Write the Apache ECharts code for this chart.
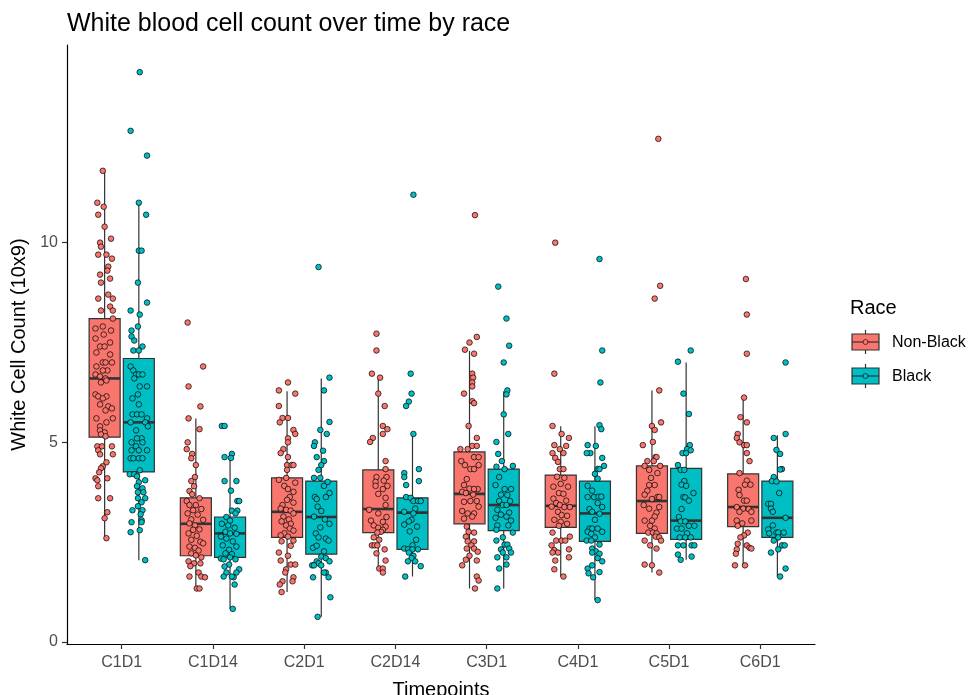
<!DOCTYPE html>
<html><head><meta charset="utf-8">
<script src="https://cdn.jsdelivr.net/npm/echarts@6/dist/echarts.min.js"></script>
<style>html,body{margin:0;padding:0;background:#fff}#c{width:971px;height:695px}</style>
</head><body><div id="c"></div>
<script>
// ---------------- data ----------------
const timepoints = ['C1D1','C1D14','C2D1','C2D14','C3D1','C4D1','C5D1','C6D1'];
const groups = ['Non-Black','Black'];
const colors = ['#F8766D','#00BFC4'];
const yTicks = [0,5,10];
// box stats per timepoint: [lower whisker, Q1, median, Q3, upper whisker]
const boxNonBlack = [
  [2.6,5.13,6.6,8.1,11.8],[1.32,2.16,2.96,3.61,5.6],[1.25,2.62,3.26,4.11,6.28],[1.82,2.74,3.33,4.31,6.6],
  [1.34,2.96,3.71,4.76,7.29],[1.64,2.87,3.41,4.18,5.4],[1.74,2.72,3.53,4.41,6.3],[1.92,2.89,3.38,4.21,6.12]
];
const boxBlack = [
  [2.05,4.26,5.5,7.1,11.0],[0.83,2.12,2.72,3.13,4.71],[0.63,2.2,3.13,4.03,6.6],[1.64,2.32,3.24,3.61,5.21],
  [1.34,2.79,3.43,4.33,6.28],[1.05,2.52,3.22,4.03,5.4],[2.06,2.57,3.04,4.35,7.0],[1.64,2.62,3.11,4.03,5.18]
];
// observations per timepoint: [value, jitter in hundredths of a category]
const ptsNonBlack = [
 [[11.8,-2],[11.0,-8],[10.9,-1],[10.7,-7],[10.4,0],[10.1,7],[10.0,-5],[9.9,-4],[9.7,-7],[9.7,2],[9.6,8],[9.4,4],[9.2,-5],[9.3,3],[9.1,6],[9.0,-4],[8.6,-7],[8.7,4],[8.6,9],[8.4,6],[8.3,9],[8.3,-4],[8.1,9],[7.9,-2],[7.85,-10],[7.8,7],[7.7,-1],[7.6,-10],[7.5,6],[7.4,-5],[7.4,0],[7.25,-9],[7.2,6],[7.0,-2],[7.0,1],[7.0,8],[6.9,-9],[6.8,3],[6.8,-2],[6.7,-10],[6.65,-5],[6.6,1],[6.5,-4],[6.55,2],[6.2,-10],[6.15,-7],[6.15,2],[6.1,-2],[5.95,-5],[5.9,4],[5.8,1],[5.85,8],[5.6,-9],[5.6,9],[5.5,2],[5.4,-5],[5.3,-5],[5.25,0],[5.2,-4],[5.15,1],[4.9,-8],[4.9,-3],[4.9,8],[4.8,-7],[4.7,-5],[4.7,9],[4.5,2],[4.4,-2],[4.35,-4],[4.25,-6],[4.1,-10],[4.1,3],[4.05,-8],[3.9,-7],[3.6,-7],[3.6,6],[3.25,3],[3.1,0],[2.6,2]],
 [[8.0,-9],[6.9,8],[6.4,-8],[5.9,5],[5.6,-8],[5.33,4],[5.0,-9],[4.83,-10],[4.71,-4],[4.6,-5],[4.43,0],[4.13,-1],[4.03,-5],[3.9,-2],[3.78,-7],[3.7,-4],[3.6,4],[3.53,-10],[3.43,-7],[3.43,0],[3.33,6],[3.3,-3],[3.22,-9],[3.19,2],[3.07,-5],[3.06,8],[2.97,-7],[2.92,-1],[2.81,-3],[2.82,4],[2.72,-8],[2.66,1],[2.56,-5],[2.51,5],[2.47,8],[2.39,-7],[2.36,-1],[2.29,3],[2.22,-5],[2.17,0],[2.12,6],[2.02,-8],[1.97,-2],[1.9,-6],[1.97,5],[1.74,3],[1.64,-7],[1.64,6],[1.62,10],[1.34,1],[1.34,4]],
 [[6.5,1],[6.3,-9],[6.22,9],[5.91,-9],[5.61,-5],[5.61,1],[5.5,-8],[5.31,7],[5.21,9],[5.1,1],[5.0,1],[4.83,-4],[4.73,-7],[4.63,1],[4.43,0],[4.43,5],[4.43,7],[4.31,0],[4.11,-1],[4.06,-9],[3.99,9],[3.91,-3],[3.83,1],[3.76,7],[3.63,3],[3.56,0],[3.49,7],[3.43,-5],[3.34,-7],[3.31,-1],[3.29,4],[3.22,7],[3.14,-4],[3.07,2],[3.02,-6],[2.96,4],[2.92,-1],[2.84,3],[2.79,7],[2.72,-3],[2.67,-7],[2.64,1],[2.54,7],[2.52,-6],[2.41,4],[2.24,-9],[2.16,1],[2.04,-7],[1.94,4],[1.94,9],[1.82,-1],[1.74,-2],[1.62,7],[1.52,6],[1.52,-5],[1.44,-8],[1.25,-6]],
 [[7.72,-2],[7.3,-2],[6.72,-7],[6.62,2],[6.22,0],[5.91,7],[5.41,5],[5.33,10],[5.21,5],[5.11,-6],[5.01,-9],[4.53,8],[4.33,8],[4.13,-2],[4.13,9],[4.01,-3],[4.04,6],[3.91,-3],[3.91,10],[3.83,5],[3.71,0],[3.61,8],[3.43,8],[3.31,-10],[3.22,0],[3.13,9],[3.04,-8],[3.01,5],[2.92,-5],[2.89,8],[2.86,0],[2.81,5],[2.76,3],[2.74,-1],[2.62,-5],[2.56,1],[2.42,-7],[2.42,-4],[2.42,-1],[2.32,7],[2.22,-2],[2.04,8],[1.84,1],[1.84,5],[1.74,5]],
 [[10.69,6],[7.64,8],[7.5,0],[7.32,-5],[7.22,5],[6.72,3],[6.62,4],[6.5,3],[6.4,3],[6.22,-6],[6.03,3],[5.98,5],[5.41,-1],[5.11,8],[4.91,3],[4.91,8],[4.83,-10],[4.83,-2],[4.53,-9],[4.63,5],[4.63,10],[4.43,-5],[4.33,1],[4.43,10],[4.33,5],[4.08,-3],[3.93,-6],[3.84,0],[3.83,9],[3.83,5],[3.76,-8],[3.73,-4],[3.69,4],[3.51,-6],[3.53,1],[3.53,8],[3.39,10],[3.28,-8],[3.22,-2],[3.22,5],[3.14,3],[3.09,-6],[2.89,-3],[2.76,-1],[2.64,-4],[2.74,5],[2.52,-2],[2.52,5],[2.42,2],[2.34,-3],[2.34,5],[2.26,9],[2.16,0],[2.06,-4],[2.04,8],[1.92,-8],[1.64,8],[1.54,10],[1.34,6]],
 [[10.0,-6],[6.72,-7],[5.41,-9],[5.21,1],[5.11,9],[4.93,-7],[4.83,-1],[4.91,6],[4.73,-9],[4.73,3],[4.61,-6],[4.51,-3],[4.33,-1],[4.33,3],[4.14,-4],[4.11,4],[3.96,0],[3.89,-8],[3.89,8],[3.73,-2],[3.71,3],[3.59,-8],[3.54,6],[3.48,-5],[3.43,-1],[3.38,4],[3.38,10],[3.39,-10],[3.26,-3],[3.18,1],[3.16,7],[3.06,-7],[3.01,0],[2.96,7],[2.91,-2],[2.74,-9],[2.64,10],[2.54,-5],[2.54,1],[2.54,5],[2.42,-10],[2.3,-7],[2.24,-3],[2.32,9],[2.24,-9],[2.12,9],[2.04,-6],[1.82,-7],[1.64,3]],
 [[12.6,7],[8.92,9],[8.6,3],[6.3,8],[5.5,10],[5.41,0],[5.31,3],[5.01,1],[4.93,-10],[4.63,4],[4.63,5],[4.53,-5],[4.53,2],[4.41,-8],[4.41,9],[4.31,-3],[4.23,6],[4.11,-1],[3.93,-3],[3.93,3],[3.79,-5],[3.69,-8],[3.63,6],[3.63,8],[3.58,0],[3.43,-9],[3.38,8],[3.34,-3],[3.24,5],[3.14,3],[3.04,-8],[3.04,0],[2.91,-2],[2.84,3],[2.74,-4],[2.74,1],[2.72,5],[2.64,4],[2.62,8],[2.54,-8],[2.54,10],[2.42,-2],[2.34,5],[1.94,-8],[1.92,0],[1.74,8]],
 [[9.09,3],[8.2,4],[7.22,4],[6.12,1],[5.63,-3],[5.5,4],[5.21,-6],[5.11,-7],[5.0,-4],[4.93,1],[4.93,4],[4.73,4],[4.53,7],[4.23,-4],[4.04,4],[3.94,8],[3.94,2],[3.81,-5],[3.68,-4],[3.54,1],[3.54,4],[3.38,-7],[3.34,0],[3.33,6],[3.26,9],[3.26,-4],[3.04,-7],[3.04,9],[2.97,-1],[2.91,-6],[2.74,5],[2.67,1],[2.62,-3],[2.46,-6],[2.42,4],[2.36,7],[2.32,-7],[2.34,9],[2.21,-8],[1.92,-9],[1.92,2]]
];
const ptsBlack = [
 [[14.27,1],[12.8,-9],[12.18,9],[11.0,0],[10.7,8],[9.8,0],[9.8,3],[9.0,-1],[8.5,9],[8.3,-9],[8.2,1],[7.9,-1],[7.8,-8],[7.65,-8],[7.55,-5],[7.4,4],[7.3,-6],[7.3,0],[6.9,-9],[6.8,-6],[6.7,-3],[6.7,0],[6.6,-5],[6.7,4],[6.4,1],[6.4,9],[6.2,-1],[6.1,-7],[5.95,0],[5.7,-7],[5.7,-2],[5.7,3],[5.6,9],[5.5,7],[5.4,10],[5.5,-9],[5.3,-3],[5.1,3],[5.1,-2],[5.0,4],[5.0,-8],[4.9,-3],[4.8,-8],[4.8,0],[4.8,9],[4.6,-9],[4.6,-6],[4.6,0],[4.6,4],[4.3,1],[4.2,-10],[4.2,-5],[4.15,-2],[4.0,0],[4.05,7],[3.9,-2],[3.85,4],[3.75,-1],[3.75,5],[3.6,-1],[3.6,7],[3.5,3],[3.4,-1],[3.3,-7],[3.3,4],[3.2,2],[3.05,3],[3.0,-8],[3.0,3],[2.8,1],[2.75,-9],[2.05,7]],
 [[5.41,-9],[5.41,-6],[4.63,-6],[4.71,2],[4.61,1],[4.03,-6],[4.03,7],[3.79,1],[3.53,8],[3.53,10],[3.29,2],[3.29,8],[3.22,6],[3.13,-4],[3.04,0],[2.96,-9],[2.92,-2],[2.86,5],[2.76,-5],[2.72,0],[2.71,7],[2.64,-10],[2.59,-4],[2.52,3],[2.42,-8],[2.39,7],[2.31,-1],[2.22,-5],[2.2,2],[2.09,-10],[2.07,-7],[2.12,0],[2.07,6],[1.94,-1],[1.89,-6],[1.82,10],[1.74,-4],[1.74,7],[1.62,4],[1.64,2],[1.64,-7],[1.44,5],[0.83,3]],
 [[9.39,-3],[6.62,9],[6.3,3],[5.51,9],[5.31,-1],[5.21,6],[5.0,-7],[4.91,-8],[4.79,2],[4.63,-5],[4.53,3],[4.43,0],[4.31,-3],[4.11,-8],[4.11,-1],[4.01,7],[3.91,3],[3.73,9],[3.63,-7],[3.58,-5],[3.63,5],[3.39,-4],[3.28,0],[3.14,-8],[3.07,4],[2.96,9],[2.87,-1],[2.72,-6],[2.62,-3],[2.59,5],[2.54,8],[2.36,-9],[2.41,-5],[2.27,3],[2.14,0],[2.1,5],[2.02,9],[2.02,-5],[1.97,-3],[1.92,-10],[1.92,-8],[1.92,0],[1.74,5],[1.74,3],[1.62,-9],[1.62,8],[1.12,10],[0.63,-4]],
 [[11.2,1],[6.72,-2],[6.22,-1],[6.02,-4],[5.91,-7],[5.21,1],[4.33,7],[4.23,-9],[4.13,-9],[4.03,7],[3.93,-7],[3.63,-7],[3.61,-2],[3.53,1],[3.53,6],[3.53,9],[3.34,3],[3.26,-9],[3.22,1],[3.06,-1],[3.02,-4],[2.94,-9],[2.89,5],[2.77,-3],[2.56,4],[2.42,0],[2.34,-9],[2.32,-5],[2.32,0],[2.32,6],[2.24,-4],[2.16,1],[2.1,-1],[2.02,3],[2.02,-5],[1.9,9],[1.64,-8]],
 [[8.9,-6],[8.1,3],[7.42,6],[7.0,0],[6.3,4],[6.2,3],[5.7,0],[5.21,5],[5.01,-8],[4.71,-6],[4.53,-2],[4.39,-8],[4.33,1],[4.41,10],[4.13,-5],[3.93,-9],[3.83,1],[3.83,8],[3.69,-3],[3.68,4],[3.53,-5],[3.53,7],[3.43,-1],[3.43,3],[3.31,-7],[3.24,6],[3.19,-3],[3.14,3],[3.11,-9],[3.04,8],[2.92,-7],[2.92,5],[2.81,-8],[2.74,10],[2.62,-1],[2.54,-8],[2.44,1],[2.44,4],[2.32,-3],[2.34,6],[2.24,-1],[2.24,8],[2.12,-7],[2.12,3],[1.94,3],[1.84,-5],[1.34,-7]],
 [[9.59,5],[7.3,8],[6.5,6],[5.43,5],[5.33,7],[4.93,-8],[4.91,1],[4.73,-5],[4.73,-9],[4.61,8],[4.41,10],[4.33,3],[4.33,5],[4.21,0],[4.09,3],[3.91,-8],[3.79,-3],[3.63,-8],[3.63,-1],[3.64,4],[3.64,7],[3.48,3],[3.33,-6],[3.38,8],[3.26,-3],[3.21,5],[3.06,0],[2.84,-6],[2.84,-3],[2.84,3],[2.76,-8],[2.71,-4],[2.76,8],[2.62,0],[2.54,-9],[2.54,-4],[2.44,5],[2.34,-3],[2.27,1],[2.21,5],[2.24,-3],[2.1,3],[2.02,8],[1.92,-3],[1.84,-8],[1.75,5],[1.72,-7],[1.62,-2],[1.05,3]],
 [[7.3,5],[7.02,-9],[6.22,-3],[5.71,3],[4.93,4],[4.83,1],[4.73,-4],[4.8,5],[4.73,0],[4.43,-9],[4.31,-6],[4.31,-2],[4.03,-2],[3.94,-5],[3.91,0],[3.73,8],[3.63,-3],[3.62,-1],[3.54,3],[3.33,-5],[3.13,-8],[3.02,-6],[3.02,-1],[2.91,3],[2.91,9],[2.84,-10],[2.84,-5],[2.72,1],[2.62,-7],[2.62,-1],[2.62,5],[2.42,-9],[2.42,-3],[2.42,6],[2.42,9],[2.19,-9],[2.14,6],[2.06,-6]],
 [[7.0,9],[5.11,-4],[5.21,9],[4.81,-1],[4.71,3],[4.33,5],[4.32,3],[4.13,-4],[4.03,-6],[4.02,-1],[3.73,2],[3.46,-10],[3.46,-7],[3.34,-7],[3.26,-5],[3.11,9],[2.82,-10],[2.92,-5],[2.72,-9],[2.74,-1],[2.74,1],[2.74,7],[2.62,1],[2.54,-4],[2.42,5],[2.42,8],[2.32,1],[2.24,-7],[1.84,9],[1.64,3]]
];

// ---------------- chart ----------------
const FONT = "'Liberation Sans', Arial, sans-serif";
const DODGE = 0.1875, BOXW = 0.34;
const boxSets = [boxNonBlack, boxBlack];
const ptSets = [ptsNonBlack, ptsBlack];

const boxData = [];
boxSets.forEach((arr, g) => arr.forEach((s, i) => boxData.push([i + 1 + (g ? DODGE : -DODGE), s[0], s[1], s[2], s[3], s[4], g])));

function renderBox(params, api) {
  const x = api.value(0), g = api.value(6);
  const w = api.size([BOXW, 0])[0];
  const lo = api.coord([x, api.value(1)]), q1 = api.coord([x, api.value(2)]),
        md = api.coord([x, api.value(3)]), q3 = api.coord([x, api.value(4)]),
        hi = api.coord([x, api.value(5)]);
  const cx = md[0];
  const ls = { stroke: '#333333', lineWidth: 1.2 };
  return { type: 'group', children: [
    { type: 'line', shape: { x1: cx, y1: lo[1], x2: cx, y2: q1[1] }, style: ls },
    { type: 'line', shape: { x1: cx, y1: q3[1], x2: cx, y2: hi[1] }, style: ls },
    { type: 'rect', shape: { x: cx - w / 2, y: q3[1], width: w, height: q1[1] - q3[1] },
      style: { fill: colors[g], stroke: '#333333', lineWidth: 1.2 } },
    { type: 'line', shape: { x1: cx - w / 2, y1: md[1], x2: cx + w / 2, y2: md[1] },
      style: { stroke: '#333333', lineWidth: 2.6 } }
  ]};
}

const scatterSeries = ptSets.map((sets, g) => ({
  type: 'scatter', name: groups[g], z: 3, silent: true,
  symbol: 'circle', symbolSize: 5.6,
  itemStyle: { color: colors[g], borderColor: '#000', borderWidth: 0.7, opacity: 1 },
  data: sets.flatMap((list, i) => list.map(([v, j]) => [i + 1 + (g ? DODGE : -DODGE) + j / 100, v]))
}));

// legend (drawn as graphic)
function legendKey(y, g) {
  const x0 = 852, w = 27, h = 16;
  return [
    { type: 'line', shape: { x1: x0 + w / 2, y1: y - 12, x2: x0 + w / 2, y2: y + 12 }, style: { stroke: '#333', lineWidth: 1.2 } },
    { type: 'rect', shape: { x: x0, y: y - h / 2, width: w, height: h }, style: { fill: colors[g], stroke: '#333', lineWidth: 1.2 } },
    { type: 'line', shape: { x1: x0, y1: y, x2: x0 + w, y2: y }, style: { stroke: '#333', lineWidth: 1.2 } },
    { type: 'circle', shape: { cx: x0 + w / 2, cy: y, r: 2.5 }, style: { fill: colors[g], stroke: '#000', lineWidth: 0.6 } },
    { type: 'text', x: 892, y: y + 1, style: { text: groups[g], font: '16px ' + FONT, fill: '#000', textVerticalAlign: 'middle' } }
  ];
}

const chart = echarts.init(document.getElementById('c'), null, { renderer: 'canvas' });
chart.setOption({
  animation: false,
  backgroundColor: '#fff',
  title: { text: 'White blood cell count over time by race', left: 62, top: 7,
    textStyle: { fontFamily: FONT, fontSize: 25, fontWeight: 'normal', color: '#000' } },
  grid: { left: 67, right: 156, top: 45, bottom: 51, outerBoundsMode: 'none', containLabel: false },
  xAxis: {
    type: 'value', min: 0.4, max: 8.6,
    name: 'Timepoints', nameLocation: 'middle', nameGap: 36,
    nameTextStyle: { fontFamily: FONT, fontSize: 20, color: '#000' },
    axisLine: { show: true, onZero: false, lineStyle: { color: '#000', width: 1.2 } },
    axisTick: { show: true, customValues: timepoints.map((_, i) => i + 1), length: 5, lineStyle: { color: '#333', width: 1.2 } },
    axisLabel: { customValues: timepoints.map((_, i) => i + 1), formatter: v => timepoints[Math.round(v) - 1] || '',
      fontFamily: FONT, fontSize: 16, color: '#4D4D4D', margin: 11 },
    splitLine: { show: false }
  },
  yAxis: {
    type: 'value', min: -0.05, max: 14.95,
    name: 'White Cell Count (10x9)', nameLocation: 'middle', nameGap: 28, nameRotate: 90,
    nameTextStyle: { fontFamily: FONT, fontSize: 20, color: '#000' },
    axisLine: { show: true, onZero: false, lineStyle: { color: '#000', width: 1.2 } },
    axisTick: { show: true, customValues: yTicks, length: 5, lineStyle: { color: '#333', width: 1.2 } },
    axisLabel: { customValues: yTicks, fontFamily: FONT, fontSize: 16, color: '#4D4D4D', margin: 9 },
    splitLine: { show: false }
  },
  graphic: [
    { type: 'text', x: 850, y: 308, style: { text: 'Race', font: '20px ' + FONT, fill: '#000', textVerticalAlign: 'middle' } },
    ...legendKey(342, 0),
    ...legendKey(376, 1)
  ],
  series: [
    { type: 'custom', z: 2, silent: true, renderItem: renderBox, data: boxData,
      encode: { x: 0, y: [1, 2, 3, 4, 5] } },
    ...scatterSeries
  ]
});
</script>
</body></html>
